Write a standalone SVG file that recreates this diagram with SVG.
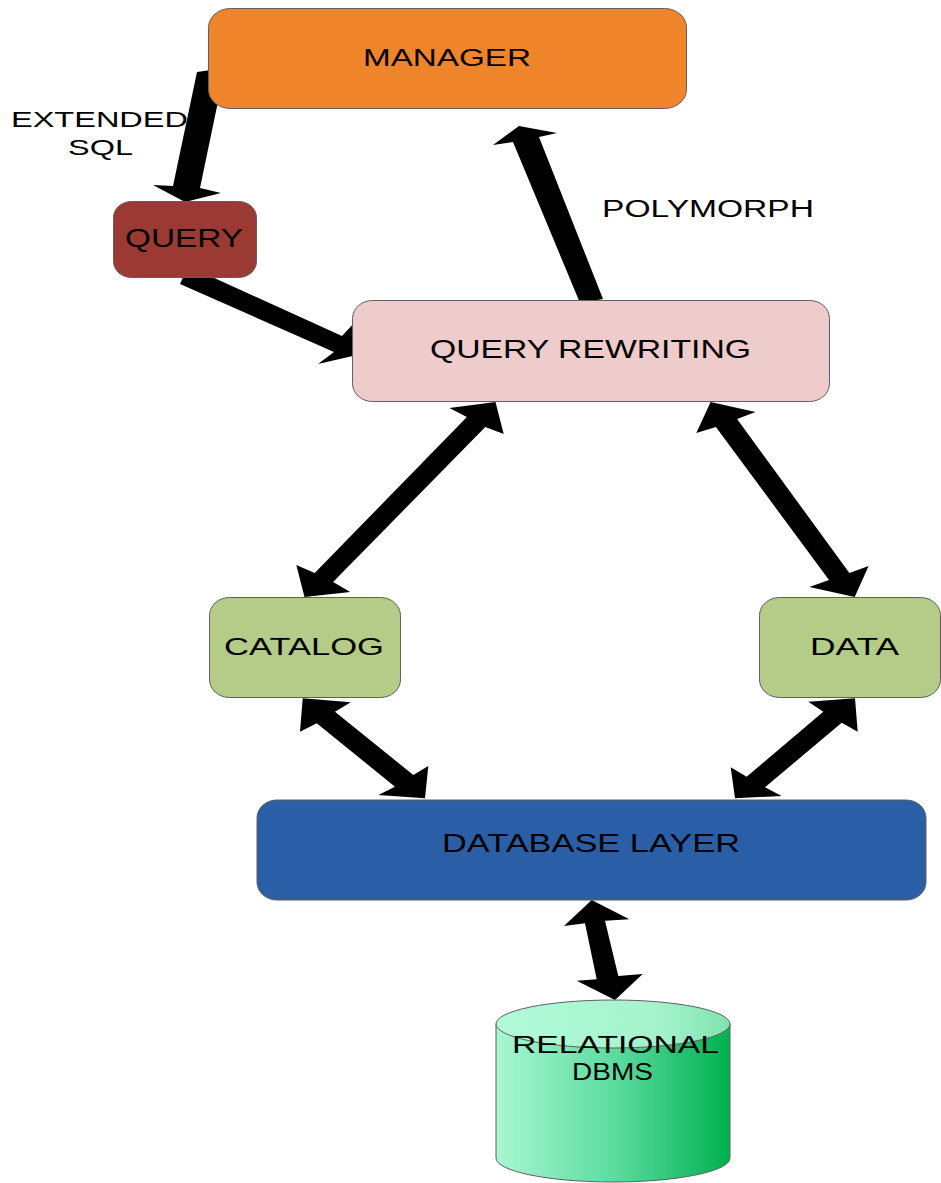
<svg xmlns="http://www.w3.org/2000/svg" width="941" height="1183" viewBox="0 0 941 1183">
  <style>
    .box { stroke: #5f5f5f; stroke-width: 1; }
    .lbl { font-family: "Liberation Sans", Arial, sans-serif; fill: #000; }
    .arrow { fill: #000; stroke: none; }
  </style>
  <defs>
    <linearGradient id="cylBody" x1="0" y1="0" x2="1" y2="0">
      <stop offset="0" stop-color="#a8f7d2"/>
      <stop offset="0.5" stop-color="#5ddca0"/>
      <stop offset="1" stop-color="#00b14f"/>
    </linearGradient>
    <linearGradient id="cylTop" x1="0" y1="0" x2="1" y2="0">
      <stop offset="0" stop-color="#b2fad8"/>
      <stop offset="0.7" stop-color="#a4f3cd"/>
      <stop offset="1" stop-color="#7fe3ae"/>
    </linearGradient>
  </defs>
  <rect width="941" height="1183" fill="#fff"/>

  <!-- connectors (drawn beneath the nodes) -->
  <g id="connectors">
    <polygon class="arrow" points="197,72 225,68 200,188 221,193 185,202 153,185 173,186"/>
    <polygon class="arrow" points="180,284 188,266 342,336 355,322 370,352 318,364 334,352"/>
    <polygon class="arrow" points="580,303 513,142 493,145 519,126 557,133 539,137 603,299"/>
    <polygon class="arrow" points="495.5,402 503.7,434 485.3,427 333.1,582 350.2,592 304.5,597 296.3,565 314.7,573 466.9,417 449.4,408"/>
    <polygon class="arrow" points="710.6,402 755.5,412 737.1,419 849.4,573 868.6,566 854.7,597 809.4,587 829,580 715.9,427 696.3,433"/>
    <polygon class="arrow" points="302.7,698.3 350.7,702.3 335,711.7 413.3,775 428.3,766 425,798.3 378.3,795 395,786.7 316.7,723.3 300,731.7"/>
    <polygon class="arrow" points="855,698.3 857.7,731.7 841.7,722.7 765,787.3 781.7,796 735,798.3 730.7,767.3 746.7,776.7 823.3,711.7 808.3,701.7"/>
    <polygon class="arrow" points="591.7,900 629.3,919.3 605,920.7 618.3,976 642.7,974 615,1000 576.7,980.7 596.7,979.3 585,923.3 564,926"/>
    <text class="lbl" x="11" y="127" font-size="22" textLength="177" lengthAdjust="spacingAndGlyphs">EXTENDED</text>
    <text class="lbl" x="68" y="155" font-size="22" textLength="65" lengthAdjust="spacingAndGlyphs">SQL</text>
    <text class="lbl" x="602" y="217" font-size="23" textLength="212" lengthAdjust="spacingAndGlyphs">POLYMORPH</text>
  </g>

  <g id="manager">
    <rect class="box" x="208.5" y="8.5" width="478" height="100" rx="22" ry="19" fill="#f0842a"/>
    <text class="lbl" x="363" y="66" font-size="24" textLength="168" lengthAdjust="spacingAndGlyphs">MANAGER</text>
  </g>

  <g id="query">
    <rect class="box" x="113.5" y="201.5" width="143" height="76" rx="18" ry="16" fill="#9b3a33"/>
    <text class="lbl" x="125" y="247" font-size="25" textLength="118" lengthAdjust="spacingAndGlyphs">QUERY</text>
  </g>

  <g id="query-rewriting">
    <rect class="box" x="352.5" y="300.5" width="477" height="101" rx="20" ry="18" fill="#edcccb"/>
    <text class="lbl" x="430" y="358" font-size="25" textLength="321" lengthAdjust="spacingAndGlyphs">QUERY REWRITING</text>
  </g>

  <g id="catalog">
    <rect class="box" x="209.5" y="597.5" width="191" height="100" rx="20" ry="18" fill="#b5cb88"/>
    <text class="lbl" x="224" y="655" font-size="24.5" textLength="160" lengthAdjust="spacingAndGlyphs">CATALOG</text>
  </g>

  <g id="data">
    <rect class="box" x="759.5" y="597.5" width="181" height="100" rx="20" ry="18" fill="#b5cb88"/>
    <text class="lbl" x="810" y="655" font-size="24.5" textLength="89" lengthAdjust="spacingAndGlyphs">DATA</text>
  </g>

  <g id="database-layer">
    <rect class="box" x="257" y="800" width="669" height="100" rx="20" ry="18" fill="#2a5ea6"/>
    <text class="lbl" x="442" y="852" font-size="25" textLength="298" lengthAdjust="spacingAndGlyphs">DATABASE LAYER</text>
  </g>

  <g id="relational-dbms">
    <path class="box" d="M496,1024 L496,1158 A117,24 0 0 0 730,1158 L730,1024 Z" fill="url(#cylBody)"/>
    <ellipse class="box" cx="613" cy="1024" rx="117" ry="24" fill="url(#cylTop)"/>
    <text class="lbl" x="512" y="1053" font-size="23" textLength="207" lengthAdjust="spacingAndGlyphs">RELATIONAL</text>
    <text class="lbl" x="572" y="1080" font-size="23" textLength="81" lengthAdjust="spacingAndGlyphs">DBMS</text>
  </g>
</svg>
